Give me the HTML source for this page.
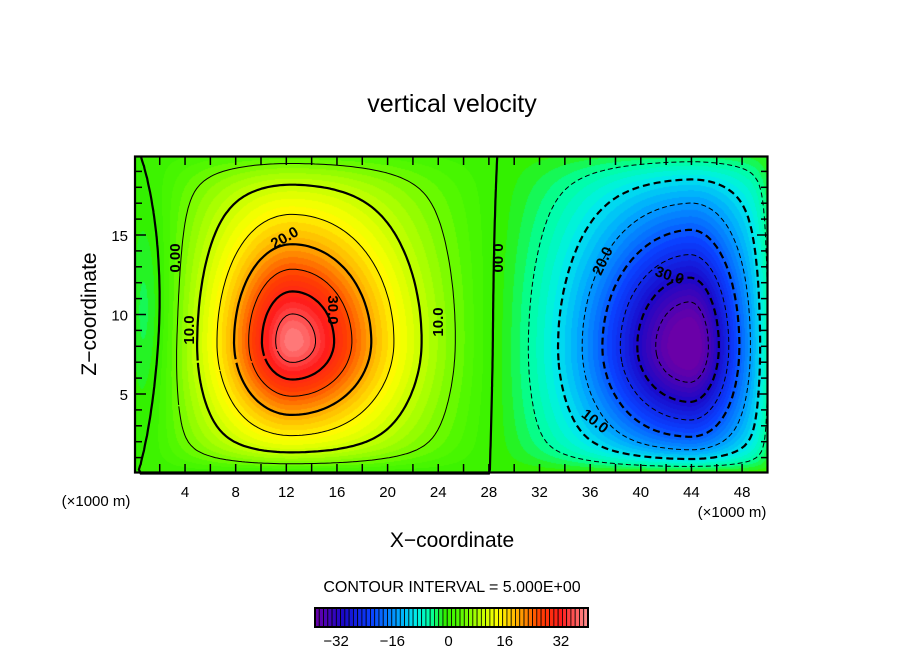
<!DOCTYPE html>
<html><head><meta charset="utf-8"><style>
html,body{margin:0;padding:0;background:#fff;}
#wrap{position:relative;width:904px;height:654px;overflow:hidden;font-family:"Liberation Sans",sans-serif;}
canvas{position:absolute;}
svg{position:absolute;left:0;top:0;}
</style></head><body>
<div id="wrap">
<canvas id="fill" width="633" height="317" style="left:135px;top:156px"></canvas>
<svg id="svg" width="904" height="654">
<text x="452" y="112" font-size="25" text-anchor="middle">vertical velocity</text>
<text transform="translate(96,314) rotate(-90)" font-size="21" text-anchor="middle">Z−coordinate</text>
<text x="452" y="547" font-size="21" text-anchor="middle">X−coordinate</text>
<text x="96" y="506" font-size="15" text-anchor="middle">(×1000 m)</text>
<text x="732" y="517" font-size="15" text-anchor="middle">(×1000 m)</text>
<text x="452" y="592" font-size="16" text-anchor="middle">CONTOUR INTERVAL = 5.000E+00</text>
<g id="contours"></g>
<g id="labels" font-size="15" font-weight="bold">
<text transform="translate(180,258) rotate(-90)" text-anchor="middle">0.00</text>
<text transform="translate(194,330) rotate(-90)" text-anchor="middle">10.0</text>
<text transform="translate(287,242) rotate(-30)" text-anchor="middle">20.0</text>
<text transform="translate(328,310) rotate(90)" text-anchor="middle">30.0</text>
<text transform="translate(443,322) rotate(-90)" text-anchor="middle">10.0</text>
<text transform="translate(493,258) rotate(90)" text-anchor="middle">0.00</text>
<text transform="translate(607,263) rotate(-65)" text-anchor="middle">20.0</text>
<text transform="translate(668,280) rotate(18)" text-anchor="middle">30.0</text>
<text transform="translate(592,425) rotate(38)" text-anchor="middle">10.0</text>
</g>
<g id="axes"></g>
<g id="cbar"></g>
</svg>
</div>
<script>
// blob model parameters
const blobCX=[12.5,43.8,-0.8];
const blobCZ=[8.3,8.0,10.0];
const blobAmp=[42,-43,-16];
const blobSxL=[5.4,8.0,3.0];
const blobSxR=[7.5,4.3,3.0];
const blobSzD=[5.3,6.5,7.0];
const blobSzU=[7.0,8.0,7.0];
const blobPow=[1.7,2.0,2.0];
const contourLevels=[-35,-30,-25,-20,-15,-10,-5,0,5,10,15,20,25,30,35];
const xTickLabels=[4,8,12,16,20,24,28,32,36,40,44,48];
const zTickLabels=[5,10,15];
const cbarTicks=[-32,-16,0,16,32];
const cmapVals=[-38,-30,-22,-14,-9,-5,-1,3,8,14,20,26,32,39.7];
const cmapCols=["#6a00a8","#1a08c8","#0a40ff","#00a8ff","#00f0e8","#00ffa0","#30f000","#50f800","#a8ff00","#ffff00","#ffa800","#ff4000","#ff1c1c","#ff9090"];

const XMAX=50,ZMAX=19.9;
const sx=x=>134.4+x*12.66;
const sz=z=>473.5-z*15.9;
const NS="http://www.w3.org/2000/svg";

function field(x,z){
  let f=0;
  for(let i=0;i<blobAmp.length;i++){
    const dx=x-blobCX[i],dz=z-blobCZ[i];
    const a=dx/(dx<0?blobSxL[i]:blobSxR[i]);
    const b=dz/(dz<0?blobSzD[i]:blobSzU[i]);
    const r=Math.sqrt(a*a+b*b);
    f+=blobAmp[i]/(1+Math.pow(r,blobPow[i]));
  }
  const t=Math.tanh(z/1.3)*Math.tanh((20.6-z)/2)*Math.tanh((x+0.3)/1.8)*Math.tanh((50.6-x)/1.2);
  return f*t;
}
function hex(h){return [parseInt(h.substr(1,2),16),parseInt(h.substr(3,2),16),parseInt(h.substr(5,2),16)];}
const cmapRGB=cmapCols.map(hex);
function color(v){
  if(v<=cmapVals[0])return cmapRGB[0];
  for(let i=1;i<cmapVals.length;i++){
    if(v<=cmapVals[i]){const t=(v-cmapVals[i-1])/(cmapVals[i]-cmapVals[i-1]);
      const a=cmapRGB[i-1],b=cmapRGB[i];return [0,1,2].map(k=>Math.round(a[k]+(b[k]-a[k])*t));}
  }
  return cmapRGB[cmapRGB.length-1];
}
// fill
const cv=document.getElementById('fill'),ctx=cv.getContext('2d');
const img=ctx.createImageData(cv.width,cv.height);
for(let j=0;j<cv.height;j++)for(let i=0;i<cv.width;i++){
  const X=(135+i+0.5-134.4)/12.66, Z=(473.5-(156+j+0.5))/15.9;
  let v=field(X,Z); v=Math.floor(v/1.25)*1.25+0.6;
  const c=color(v),k=(j*cv.width+i)*4;
  img.data[k]=c[0];img.data[k+1]=c[1];img.data[k+2]=c[2];img.data[k+3]=255;
}
ctx.putImageData(img,0,0);

// contours via marching squares + chaining
const NX=200,NZ=80,dxg=XMAX/NX,dzg=ZMAX/NZ;
const G=[];for(let i=0;i<=NX;i++){G[i]=[];for(let j=0;j<=NZ;j++)G[i][j]=field(i*dxg,j*dzg);}
const cg=document.getElementById('contours');
contourLevels.forEach(L=>{
  const pts={},adj={};
  function ep(key,x,z){pts[key]=[x,z];return key;}
  function hEdge(i,j){const a=G[i][j],b=G[i+1][j],t=(L-a)/(b-a);return ep('h'+i+'_'+j,(i+t)*dxg,j*dzg);}
  function vEdge(i,j){const a=G[i][j],b=G[i][j+1],t=(L-a)/(b-a);return ep('v'+i+'_'+j,i*dxg,(j+t)*dzg);}
  function addSeg(a,b){(adj[a]=adj[a]||[]).push(b);(adj[b]=adj[b]||[]).push(a);}
  for(let i=0;i<NX;i++)for(let j=0;j<NZ;j++){
    const c0=G[i][j]>L,c1=G[i+1][j]>L,c2=G[i+1][j+1]>L,c3=G[i][j+1]>L;
    const e=[];
    if(c0!==c1)e.push(hEdge(i,j));
    if(c1!==c2)e.push(vEdge(i+1,j));
    if(c3!==c2)e.push(hEdge(i,j+1));
    if(c0!==c3)e.push(vEdge(i,j));
    if(e.length===2)addSeg(e[0],e[1]);
    else if(e.length===4){addSeg(e[0],e[1]);addSeg(e[2],e[3]);}
  }
  const used={};let d='';
  const keys=Object.keys(adj);
  keys.sort((a,b)=>adj[a].length-adj[b].length);
  for(const s of keys){
    if(used[s])continue;
    let cur=s;used[cur]=1;
    d+='M'+sx(pts[cur][0]).toFixed(1)+' '+sz(pts[cur][1]).toFixed(1);
    while(true){
      const nx=(adj[cur]||[]).find(n=>!used[n]);
      if(!nx)break;used[nx]=1;cur=nx;
      d+='L'+sx(pts[cur][0]).toFixed(1)+' '+sz(pts[cur][1]).toFixed(1);
    }
  }
  const p=document.createElementNS(NS,'path');
  p.setAttribute('d',d);p.setAttribute('fill','none');p.setAttribute('stroke','#000');
  p.setAttribute('stroke-width',(L%10===0)?2.2:1);
  if(L<0)p.setAttribute('stroke-dasharray',L%10===0?'7 4':'5 3');
  
  
  cg.appendChild(p);
});

// axes
const ax=document.getElementById('axes');
function el(tag,attrs,name,txt){const e=document.createElementNS(NS,tag);for(const k in attrs)e.setAttribute(k,attrs[k]);
  
  
  if(txt!==undefined)e.textContent=txt;ax.appendChild(e);return e;}
el('rect',{x:135,y:156.5,width:632.5,height:316,fill:'none',stroke:'#000','stroke-width':2.2},'plot-frame');
for(let x=2;x<50;x+=2){
  el('line',{x1:sx(x),x2:sx(x),y1:472,y2:464,stroke:'#000','stroke-width':1.5},'x-tick');
  el('line',{x1:sx(x),x2:sx(x),y1:157,y2:165,stroke:'#000','stroke-width':1.5},'x-tick-top');
}
for(let z=1;z<20;z++){
  const len=z%5===0?10:6;
  el('line',{x1:136,x2:136+len,y1:sz(z),y2:sz(z),stroke:'#000','stroke-width':1.5},'z-tick');
  el('line',{x1:767,x2:767-len,y1:sz(z),y2:sz(z),stroke:'#000','stroke-width':1.5},'z-tick-right');
}
xTickLabels.forEach(v=>el('text',{x:sx(v),y:497,'font-size':15,'text-anchor':'middle'},'x-tick-label',String(v)));
zTickLabels.forEach(v=>el('text',{x:128,y:sz(v)+6,'font-size':15,'text-anchor':'end'},'z-tick-label',String(v)));

// colorbar
const cb=document.getElementById('cbar');
const cbX0=315,cbX1=588,cbV0=-38,cbV1=39.7,nC=64;
const cbs=v=>cbX0+(v-cbV0)/(cbV1-cbV0)*(cbX1-cbX0);
for(let i=0;i<nC;i++){
  const v=cbV0+(i+0.5)*(cbV1-cbV0)/nC,c=color(v);
  const r=document.createElementNS(NS,'rect');
  const w=(cbX1-cbX0)/nC;
  r.setAttribute('x',cbX0+i*w);r.setAttribute('y',608);r.setAttribute('width',w);r.setAttribute('height',19);
  r.setAttribute('fill','rgb('+c.join(',')+')');r.setAttribute('stroke','#000');r.setAttribute('stroke-width',0.8);
  
  
  cb.appendChild(r);
}
const fr=document.createElementNS(NS,'rect');
fr.setAttribute('x',cbX0);fr.setAttribute('y',608);fr.setAttribute('width',cbX1-cbX0);fr.setAttribute('height',19);
fr.setAttribute('fill','none');fr.setAttribute('stroke','#000');fr.setAttribute('stroke-width',2);


cb.appendChild(fr);
cbarTicks.forEach(v=>{
  const t=document.createElementNS(NS,'text');
  t.setAttribute('x',cbs(v));t.setAttribute('y',646);t.setAttribute('font-size',15);t.setAttribute('text-anchor','middle');
  t.textContent=(v<0?'−':'')+Math.abs(v);
  
  
  cb.appendChild(t);
});
</script>
</body></html>
